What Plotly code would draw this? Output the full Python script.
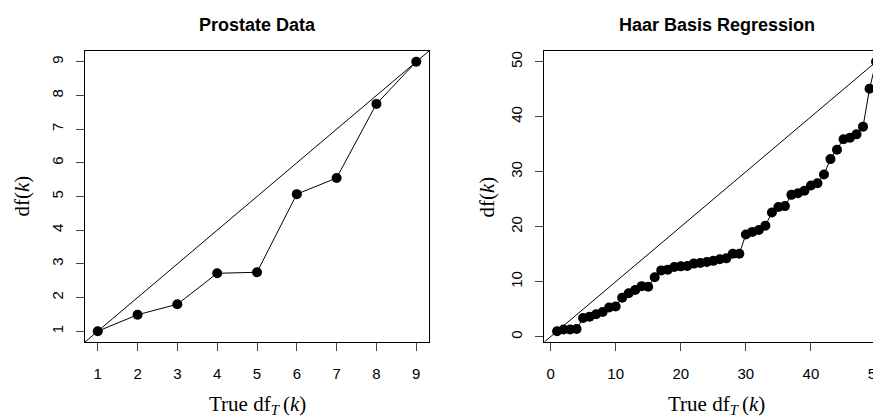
import plotly.graph_objects as go

# ---- data ----
prostate_true_df = [1, 2, 3, 4, 5, 6, 7, 8, 9]
prostate_df = [1.0, 1.49, 1.80, 2.72, 2.75, 5.07, 5.55, 7.75, 9.0]

haar_true_df = list(range(1, 51))
haar_df = [1.0, 1.3, 1.3, 1.4, 3.4, 3.65, 4.1, 4.5, 5.3, 5.5,
           7.1, 7.9, 8.5, 9.2, 9.1, 10.8, 12.06, 12.2, 12.67, 12.8,
           12.85, 13.3, 13.4, 13.6, 13.8, 14.1, 14.25, 15.1, 15.1, 18.6,
           19.06, 19.4, 20.2, 22.6, 23.6, 23.75, 25.8, 26.1, 26.55, 27.5,
           27.9, 29.5, 32.3, 34.0, 35.9, 36.2, 36.8, 38.2, 45.1, 50.0]

left_ticks = [1, 2, 3, 4, 5, 6, 7, 8, 9]
right_ticks = [0, 10, 20, 30, 40, 50]
titles = ["Prostate Data", "Haar Basis Regression"]
xlab = "True df<sub><i>T</i></sub>\u2009(<i>k</i>)"
ylab = "df(<i>k</i>)"

# axis ranges (R style 4% extension)
left_range = [0.68, 9.32]
right_xrange = [-0.96, 50.76]
right_yrange = [-0.96, 51.96]

fig = go.Figure()

# diagonals
fig.add_trace(go.Scatter(x=left_range, y=left_range, mode="lines",
                         line=dict(color="black", width=1), xaxis="x", yaxis="y",
                         showlegend=False, hoverinfo="skip"))
fig.add_trace(go.Scatter(x=right_yrange, y=right_yrange, mode="lines",
                         line=dict(color="black", width=1), xaxis="x2", yaxis="y2",
                         showlegend=False, hoverinfo="skip"))
# data
fig.add_trace(go.Scatter(x=prostate_true_df, y=prostate_df, mode="lines+markers",
                         line=dict(color="black", width=1),
                         marker=dict(color="black", size=10),
                         xaxis="x", yaxis="y", showlegend=False))
fig.add_trace(go.Scatter(x=haar_true_df, y=haar_df, mode="lines+markers",
                         line=dict(color="black", width=1),
                         marker=dict(color="black", size=10),
                         xaxis="x2", yaxis="y2", showlegend=False))

W, H = 881, 418
OFF = 8  # page body margin offset
ytop, ybot = 51 - OFF, 342 - OFF
lx0, lx1 = 85 - OFF, 429 - OFF
rx0, rx1 = 544.3 - OFF, 881 - OFF

tickfont = dict(family="Liberation Sans, Arial, sans-serif", size=15, color="black")
common = dict(showgrid=False, zeroline=False, showline=True, linecolor="black",
              linewidth=1, ticks="outside", ticklen=8, tickwidth=1,
              tickcolor="#444", tickfont=tickfont, automargin=False)

fig.update_layout(
    template="none",
    width=W, height=H, margin=dict(l=0, r=0, t=0, b=0, autoexpand=False),
    paper_bgcolor="white", plot_bgcolor="white",
    xaxis=dict(domain=[lx0 / W, lx1 / W], range=left_range, tickvals=left_ticks,
               mirror=True, anchor="y", ticklabelstandoff=10, **common),
    yaxis=dict(domain=[1 - ybot / H, 1 - ytop / H], range=left_range, tickvals=left_ticks,
               mirror=True, tickangle=-90, anchor="x", ticklabelstandoff=7, **common),
    xaxis2=dict(domain=[rx0 / W, rx1 / W], range=right_xrange, tickvals=right_ticks,
                mirror=True, anchor="y2", ticklabeloverflow="allow",
                ticklabelstandoff=10, **common),
    yaxis2=dict(domain=[1 - ybot / H, 1 - ytop / H], range=right_yrange, tickvals=right_ticks,
                mirror=False, tickangle=-90, anchor="x2", ticklabelstandoff=7, **common),
)

annots = []
titlefont = dict(family="Liberation Sans, Arial, sans-serif", size=18, color="black")
labfont = dict(family="Liberation Serif, Times New Roman, serif", size=21, color="black")
lc = (lx0 + lx1) / 2
rc = 716.5 - OFF
for cx, t in [(lc, titles[0]), (rc, titles[1])]:
    annots.append(dict(x=cx / W, y=1 - (25 - OFF) / H, xref="paper", yref="paper",
                       text="<b>" + t + "</b>", showarrow=False, font=titlefont,
                       xanchor="center", yanchor="middle"))
for cx in [lc, rc]:
    annots.append(dict(x=cx / W, y=1 - (405 - OFF) / H, xref="paper", yref="paper",
                       text=xlab, showarrow=False, font=labfont,
                       xanchor="center", yanchor="middle"))
for cx in [22 - OFF, 487 - OFF]:
    annots.append(dict(x=cx / W, y=1 - (ytop + ybot) / 2 / H, xref="paper", yref="paper",
                       text=ylab, showarrow=False, font=labfont, textangle=-90,
                       xanchor="center", yanchor="middle"))
fig.update_layout(annotations=annots)

fig.write_html("out.html")
